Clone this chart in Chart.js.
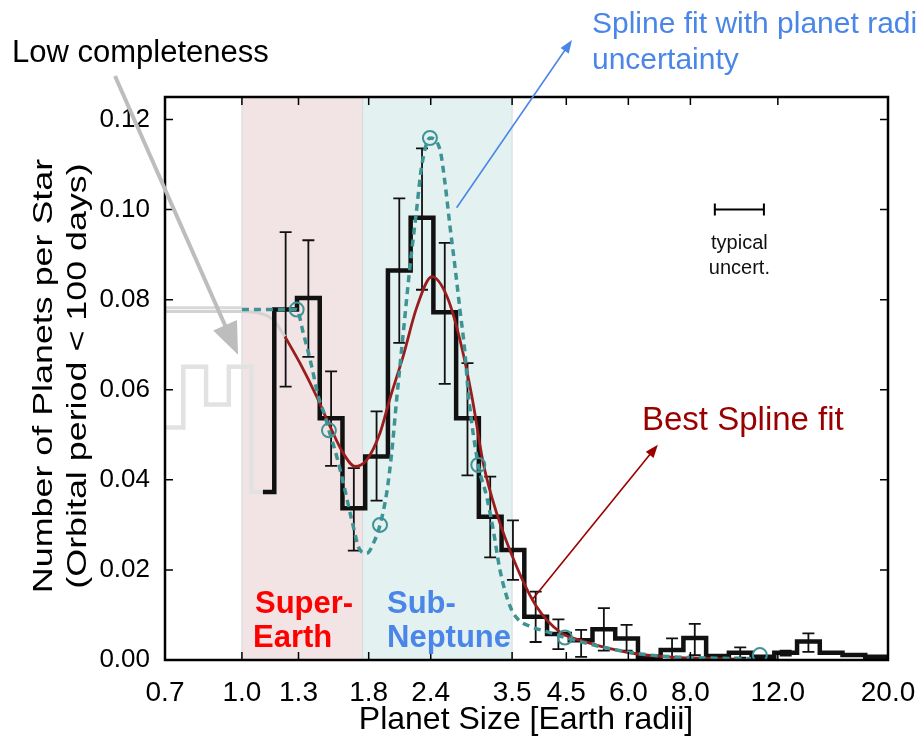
<!DOCTYPE html>
<html><head><meta charset="utf-8">
<script src="https://cdn.jsdelivr.net/npm/chart.js@4.4.0/dist/chart.umd.min.js"></script>
<style>html,body{margin:0;padding:0;background:#fff}canvas{display:block}</style>
</head><body>
<canvas id="c" width="916" height="740"></canvas>
<script>
// ---- data ----
const binEdges = [0.6860,0.7621,0.8469,0.9410,1.0456,1.1619,1.2910,1.4345,1.5939,1.7711,1.9680,2.1867,2.4298,2.6999,2.9999,3.3333,3.7038,4.1154,4.5729,5.0811,5.6459,6.2734,6.9706,7.7453,8.6062,9.5628,10.6256,11.8065,13.1187,14.5767,16.1968,17.9967,20.0];
const lowCompRate = [0.0516,0.0651,0.0567,0.0651,0.0373];           // bins 0..4 (gray)
const blackStart = 5;                                                 // first black bin index
const occRate = [0.0778,0.0804,0.0537,0.0337,0.0452,0.0865,0.0982,0.0772,0.0537,0.0318,0.0244,0.0096,0.0058,0.0044,0.0068,0.0048,0.0007,0.0022,0.0049,0.0009,0.0016,0.0007,0.0016,0.0041,0.0016,0.0011,0.0007];
const errLow  = [0.0607,0.0673,0.0431,0.0243,0.0354,0.0704,0.0822,0.0613,0.0410,0.0228,0.0178,0.0040,0.0024,0.0007,0.0021,0.0021,null,0.0000,0.0011,null,0.0005,null,0.0010,0.0018,null,null,null];
const errHigh = [0.0950,0.0932,0.0641,0.0426,0.0552,0.1025,0.1136,0.0926,0.0659,0.0407,0.0310,0.0152,0.0090,0.0067,0.0115,0.0078,null,0.0048,0.0080,null,0.0028,null,0.0021,0.0059,null,null,null];
const splineR = [1.221,1.309,1.414,1.504,1.600,1.689,1.783,1.897,1.987,2.110,2.251,2.414,2.588,2.748,2.906,3.062,3.258,3.575,3.922,4.370,4.794,5.260,6.129,7.174,8.362,10.06];
const splineV = [0.0718,0.0659,0.0585,0.0519,0.0459,0.0430,0.0444,0.0504,0.0581,0.0673,0.0784,0.0851,0.0807,0.0711,0.0584,0.0437,0.0326,0.0207,0.0118,0.0062,0.0044,0.0031,0.0015,0.0007,0.0004,0.0002];
const uncR = [1.0,1.289,1.329,1.382,1.425,1.470,1.497,1.552,1.612,1.664,1.729,1.783,1.853,1.897,1.956,2.002,2.049,2.113,2.180,2.248,2.301,2.391,2.505,2.564,2.624,2.685,2.748,2.813,2.856,2.992,3.110,3.207,3.308,3.465,3.60,3.80,4.108,4.472,4.945,5.683,6.631,7.729,9.0,10.6];
const uncV = [0.0778,0.0778,0.0726,0.0652,0.0585,0.0541,0.0510,0.0452,0.0378,0.0311,0.0244,0.0237,0.0267,0.0300,0.0370,0.0459,0.0578,0.0726,0.0874,0.1000,0.1096,0.1159,0.1133,0.1059,0.0963,0.0874,0.0778,0.0682,0.0593,0.0433,0.0363,0.0289,0.0200,0.0120,0.0090,0.0075,0.0063,0.0050,0.0037,0.0022,0.0011,0.0006,0.0004,0.0003];
const knotR = [1.289,1.497,1.897,2.391,2.992,4.472,11.04];
const knotV = [0.0778,0.0510,0.0300,0.1159,0.0433,0.0050,0.0011];
const grayUncR = [0.7,1.0], grayUncV = [0.0782,0.0782];
const graySplR = [0.7,1.0,1.087,1.155,1.221], graySplV = [0.0774,0.0774,0.0770,0.0756,0.0718];
const xTicks = [0.7,1.0,1.3,1.8,2.4,3.5,4.5,6.0,8.0,12.0,20.0];
const yTicks = [0,0.02,0.04,0.06,0.08,0.10,0.12];
const superEarthRange = [1.0,1.75];
const subNeptuneRange = [1.75,3.5];
const typUncert = [8.96,11.25,0.10];

// ---- helpers ----
const FONT = '"Liberation Sans", Arial, Helvetica, sans-serif';
function steps(edges, vals, start){const p=[];vals.forEach((v,i)=>{p.push({x:edges[start+i],y:v});p.push({x:edges[start+i+1],y:v});});return p;}
const zip=(a,b)=>a.map((v,i)=>({x:v,y:b[i]}));
const prevVal = lowCompRate[lowCompRate.length-1];
const blackPts = [{x:Math.sqrt(binEdges[blackStart-1]*binEdges[blackStart]),y:prevVal},{x:binEdges[blackStart],y:prevVal}].concat(steps(binEdges,occRate,blackStart));

function arrow(ctx,x0,y0,x1,y1,color,lw,hl,hw){
  const a=Math.atan2(y1-y0,x1-x0);
  ctx.save();ctx.strokeStyle=color;ctx.fillStyle=color;ctx.lineWidth=lw;
  ctx.beginPath();ctx.moveTo(x0,y0);ctx.lineTo(x1-Math.cos(a)*hl*0.8,y1-Math.sin(a)*hl*0.8);ctx.stroke();
  ctx.beginPath();ctx.moveTo(x1,y1);
  ctx.lineTo(x1-hl*Math.cos(a)+hw*Math.sin(a),y1-hl*Math.sin(a)-hw*Math.cos(a));
  ctx.lineTo(x1-hl*Math.cos(a)-hw*Math.sin(a),y1-hl*Math.sin(a)+hw*Math.cos(a));
  ctx.closePath();ctx.fill();ctx.restore();
}

const decor = {
  id:'decor',
  beforeDraw(chart){const c=chart.ctx;c.save();c.fillStyle='#fff';c.fillRect(0,0,chart.width,chart.height);c.restore();},
  beforeDatasetsDraw(chart){
    const {ctx,chartArea:a,scales:{x,y}}=chart;
    ctx.save();
    const r1=[x.getPixelForValue(superEarthRange[0]),x.getPixelForValue(superEarthRange[1])];
    const r2=[x.getPixelForValue(subNeptuneRange[0]),x.getPixelForValue(subNeptuneRange[1])];
    ctx.fillStyle='#f2e4e4';ctx.fillRect(r1[0],a.top,r1[1]-r1[0],a.bottom-a.top);
    ctx.fillStyle='#e4f1f1';ctx.fillRect(r2[0],a.top,r2[1]-r2[0],a.bottom-a.top);
    ctx.strokeStyle='#d6dada';ctx.lineWidth=1;
    [r1[0],r1[1],r2[1]].forEach(px=>{ctx.beginPath();ctx.moveTo(px,a.top);ctx.lineTo(px,a.bottom);ctx.stroke();});
    // error bars
    ctx.strokeStyle='#111';ctx.lineWidth=1.8;
    occRate.forEach((v,i)=>{
      if(errLow[i]===null)return;
      const k=blackStart+i, xc=x.getPixelForValue(Math.sqrt(binEdges[k]*binEdges[k+1]));
      const yl=y.getPixelForValue(errLow[i]), yh=y.getPixelForValue(errHigh[i]);
      ctx.beginPath();ctx.moveTo(xc,yl);ctx.lineTo(xc,yh);
      ctx.moveTo(xc-6,yl);ctx.lineTo(xc+6,yl);ctx.moveTo(xc-6,yh);ctx.lineTo(xc+6,yh);ctx.stroke();
    });
    ctx.restore();
  },
  afterDraw(chart){
    const {ctx,chartArea:a,scales:{x,y}}=chart;
    ctx.save();
    // frame
    ctx.strokeStyle='#000';ctx.lineWidth=2.5;ctx.strokeRect(a.left,a.top,a.right-a.left,a.bottom-a.top);
    // inward ticks
    ctx.lineWidth=1.5;ctx.beginPath();
    xTicks.forEach(v=>{const px=x.getPixelForValue(v);ctx.moveTo(px,a.bottom);ctx.lineTo(px,a.bottom-8);ctx.moveTo(px,a.top);ctx.lineTo(px,a.top+8);});
    yTicks.forEach(v=>{const py=y.getPixelForValue(v);ctx.moveTo(a.left,py);ctx.lineTo(a.left+8,py);ctx.moveTo(a.right,py);ctx.lineTo(a.right-8,py);});
    ctx.stroke();
    // typical uncertainty
    const ux0=x.getPixelForValue(typUncert[0]),ux1=x.getPixelForValue(typUncert[1]),uy=y.getPixelForValue(typUncert[2]);
    ctx.lineWidth=2;ctx.beginPath();ctx.moveTo(ux0,uy);ctx.lineTo(ux1,uy);ctx.moveTo(ux0,uy-6);ctx.lineTo(ux0,uy+6);ctx.moveTo(ux1,uy-6);ctx.lineTo(ux1,uy+6);ctx.stroke();
    ctx.fillStyle='#111';ctx.font='20px '+FONT;ctx.textAlign='center';ctx.textBaseline='alphabetic';
    ctx.fillText('typical',(ux0+ux1)/2,uy+39);ctx.fillText('uncert.',(ux0+ux1)/2,uy+64);
    // region labels
    ctx.textAlign='left';ctx.font='bold 31px '+FONT;
    ctx.fillStyle='#ff0000';ctx.fillText('Super-',255,613);ctx.fillText('Earth',253,647);
    ctx.fillStyle='#4a86e8';ctx.fillText('Sub-',387,613);ctx.fillText('Neptune',387,647);
    // axis titles
    ctx.fillStyle='#000';ctx.textAlign='center';ctx.font='32px '+FONT;
    ctx.fillText('Planet Size [Earth radii]',526,729);
    ctx.save();ctx.translate(44,376);ctx.rotate(-Math.PI/2);ctx.scale(1.28,1);
    ctx.font='28px '+FONT;ctx.textBaseline='middle';
    ctx.fillText('Number of Planets per Star',0,0);ctx.fillText('(Orbital period < 100 days)',0,34);
    ctx.restore();
    // annotations
    ctx.textAlign='left';ctx.textBaseline='alphabetic';
    ctx.font='31px '+FONT;ctx.fillStyle='#000';ctx.fillText('Low completeness',12,62);
    arrow(ctx,115,76,x.getPixelForValue(0.982),y.getPixelForValue(0.0678),'#bdbdbd',4,32,13);
    ctx.font='30px '+FONT;ctx.fillStyle='#4a86e8';
    ctx.fillText('Spline fit with planet radius',592,33);ctx.fillText('uncertainty',592,69);
    arrow(ctx,x.getPixelForValue(2.706),y.getPixelForValue(0.1004),572,40,'#4a86e8',1.6,13,5);
    ctx.font='33px '+FONT;ctx.fillStyle='#990000';ctx.fillText('Best Spline fit',642,430);
    arrow(ctx,x.getPixelForValue(3.855),y.getPixelForValue(0.0136),x.getPixelForValue(6.88),y.getPixelForValue(0.0478),'#990000',1.6,13,5);
    ctx.restore();
  }
};

const line=(data,color,w,extra)=>Object.assign({data,borderColor:color,borderWidth:w,pointRadius:0,fill:false,tension:0},extra||{});

new Chart(document.getElementById('c'),{
  type:'line',
  data:{datasets:[
    {type:'scatter',data:zip(knotR,knotV),pointRadius:7,pointHoverRadius:7,pointBorderWidth:2,pointBorderColor:'#3e9494',pointBackgroundColor:'rgba(0,0,0,0)',showLine:false},
    line(zip(uncR,uncV),'#3e9494',3.5,{borderDash:[7,5],cubicInterpolationMode:'monotone'}),
    line(zip(splineR,splineV),'#9a1c1c',2.8,{cubicInterpolationMode:'monotone'}),
    line(blackPts,'#111111',4.5,{borderJoinStyle:'miter'}),
    line(zip(graySplR,graySplV),'#d2d2d2',3,{cubicInterpolationMode:'monotone'}),
    line(zip(grayUncR,grayUncV),'#d8d8d8',3),
    line(steps(binEdges,lowCompRate,0),'#e2e2e2',4.5,{borderJoinStyle:'miter'})
  ]},
  options:{
    responsive:false,animation:false,devicePixelRatio:1,
    layout:{padding:{left:0,right:28,top:97,bottom:0}},
    plugins:{legend:{display:false},tooltip:{enabled:false}},
    scales:{
      x:{type:'logarithmic',min:0.7,max:20,
        afterBuildTicks:s=>{s.ticks=xTicks.map(v=>({value:v}));},
        afterFit:s=>{s.height=80;s.paddingLeft=0;s.paddingRight=0;},
        grid:{display:false,drawTicks:false},border:{display:false},
        ticks:{autoSkip:false,maxRotation:0,padding:16,color:'#000',font:{family:FONT,size:28},callback:v=>Number(v).toFixed(1)}},
      y:{type:'linear',min:0,max:0.125,
        afterBuildTicks:s=>{s.ticks=yTicks.map(v=>({value:v}));},
        afterFit:s=>{s.width=165;s.paddingTop=0;s.paddingBottom=0;},
        grid:{display:false,drawTicks:false},border:{display:false},
        ticks:{padding:15,color:'#000',font:{family:FONT,size:26},callback:v=>Number(v).toFixed(2)}}
    }
  },
  plugins:[decor]
});
</script>
</body></html>
